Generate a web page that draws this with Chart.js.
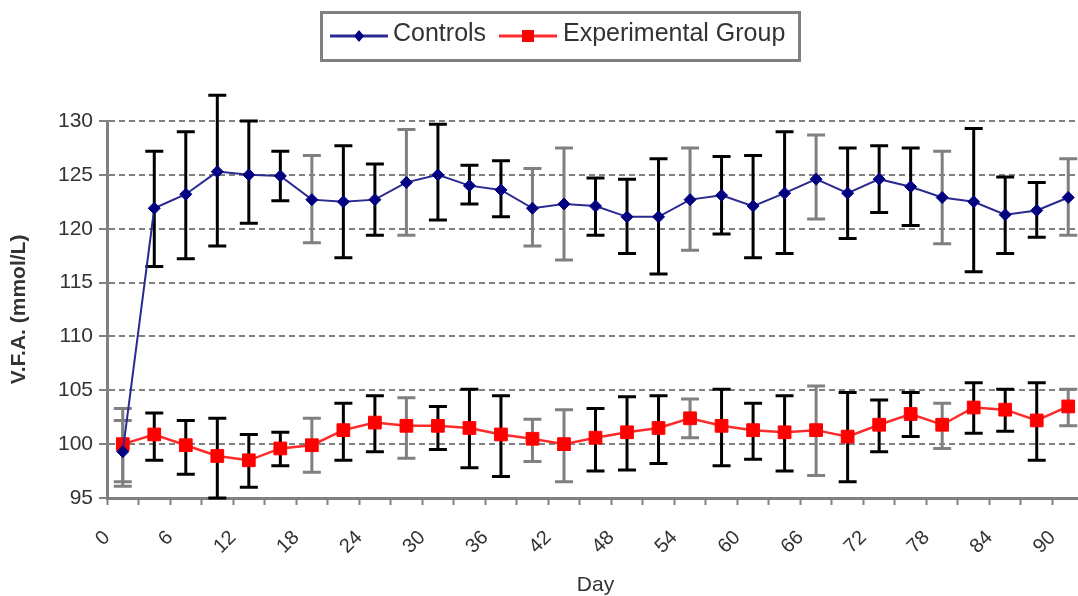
<!DOCTYPE html>
<html>
<head>
<meta charset="utf-8">
<script src="https://cdn.jsdelivr.net/npm/chart.js"></script>
<style>
	html, body { margin: 0; padding: 0; background: #fff; overflow: hidden; }
	canvas { display: block; }
</style>
</head>
<body>
<canvas id="vfaChart" width="1100" height="596"></canvas>
<script>
// sampling days (one point every 3 days)
const days = [0, 3, 6, 9, 12, 15, 18, 21, 24, 27, 30, 33, 36, 39, 42, 45, 48, 51, 54, 57, 60, 63, 66, 69, 72, 75, 78, 81, 84, 87, 90]
const dayLabels = [0, 6, 12, 18, 24, 30, 36, 42, 48, 54, 60, 66, 72, 78, 84, 90]
const yTicks = [95, 100, 105, 110, 115, 120, 125, 130]

// V.F.A. (mmol/L) - controls
const controls = [99.3, 121.9, 123.2, 125.3, 125.0, 124.9, 122.7, 122.5, 122.7, 124.3, 125.0, 124.0, 123.6, 121.9, 122.3, 122.1, 121.1, 121.1, 122.7, 123.1, 122.1, 123.3, 124.6, 123.3, 124.6, 123.9, 122.9, 122.5, 121.3, 121.7, 122.9]
const controlsHi = [102.2, 127.2, 129.0, 132.4, 130.0, 127.2, 126.8, 127.7, 126.0, 129.2, 129.7, 125.9, 126.3, 125.6, 127.5, 124.7, 124.6, 126.5, 127.5, 126.7, 126.8, 129.0, 128.7, 127.5, 127.7, 127.5, 127.2, 129.3, 124.8, 124.3, 126.5]
const controlsLo = [96.5, 116.5, 117.2, 118.4, 120.5, 122.6, 118.7, 117.3, 119.4, 119.4, 120.8, 122.3, 121.1, 118.4, 117.1, 119.4, 117.7, 115.8, 118.0, 119.5, 117.3, 117.7, 120.9, 119.1, 121.5, 120.3, 118.6, 116.0, 117.7, 119.2, 119.4]

// experimental group
const experimental = [100.0, 100.9, 99.9, 98.9, 98.5, 99.6, 99.9, 101.3, 102.0, 101.7, 101.7, 101.5, 100.9, 100.5, 100.0, 100.6, 101.1, 101.5, 102.4, 101.7, 101.3, 101.1, 101.3, 100.7, 101.8, 102.8, 101.8, 103.4, 103.2, 102.2, 103.5]
const experimentalHi = [103.3, 102.9, 102.2, 102.4, 100.9, 101.1, 102.4, 103.8, 104.5, 104.3, 103.5, 105.1, 104.5, 102.3, 103.2, 103.3, 104.4, 104.5, 104.2, 105.1, 103.8, 104.5, 105.4, 104.8, 104.1, 104.8, 103.8, 105.7, 105.1, 105.7, 105.1]
const experimentalLo = [96.1, 98.5, 97.2, 95.0, 96.0, 98.0, 97.4, 98.5, 99.3, 98.7, 99.5, 97.8, 97.0, 98.4, 96.5, 97.5, 97.6, 98.2, 100.6, 98.0, 98.6, 97.5, 97.1, 96.5, 99.3, 100.7, 99.6, 101.0, 101.2, 98.5, 101.7]

// columns where the whiskers look grey in the scan
const greyBars = [0, 6, 9, 13, 14, 18, 22, 26, 30]

Chart.defaults.font.family = '"Liberation Sans", Arial, sans-serif'
Chart.defaults.color = '#333'

// вертикальные "усы" ошибок
const errorBars = {
	id: 'errorBars',
	beforeDatasetsDraw(chart) {
		const ctx = chart.ctx
		const yScale = chart.scales.y
		chart.data.datasets.forEach((ds, di) => {
			const meta = chart.getDatasetMeta(di)
			meta.data.forEach((pt, i) => {
				const top = yScale.getPixelForValue(ds.errHi[i])
				const bottom = yScale.getPixelForValue(ds.errLo[i])
				ctx.save()
				ctx.strokeStyle = greyBars.includes(i) ? '#808080' : '#000'
				ctx.lineWidth = 3
				ctx.beginPath()
				ctx.moveTo(pt.x, top)
				ctx.lineTo(pt.x, bottom)
				ctx.moveTo(pt.x - 9, top)
				ctx.lineTo(pt.x + 9, top)
				ctx.moveTo(pt.x - 9, bottom)
				ctx.lineTo(pt.x + 9, bottom)
				ctx.stroke()
				ctx.restore()
			})
		})
	}
}

// легенда в рамке, как в Excel
const boxedLegend = {
	id: 'boxedLegend',
	afterDraw(chart) {
		const ctx = chart.ctx
		ctx.save()
		ctx.strokeStyle = '#808080'
		ctx.lineWidth = 3
		ctx.strokeRect(321.5, 12.5, 478, 48)
		const items = [
			{ x: 330, textX: 393, ds: chart.data.datasets[0] },
			{ x: 499, textX: 563, ds: chart.data.datasets[1] }
		]
		const cy = 36
		items.forEach(it => {
			ctx.strokeStyle = it.ds.borderColor
			ctx.lineWidth = 3
			ctx.beginPath()
			ctx.moveTo(it.x, cy)
			ctx.lineTo(it.x + 58, cy)
			ctx.stroke()
			const mx = it.x + 29
			ctx.fillStyle = it.ds.pointBackgroundColor
			ctx.beginPath()
			if (it.ds.pointStyle === 'rect') {
				ctx.rect(mx - 6, cy - 6, 12, 12)
			} else {
				ctx.moveTo(mx, cy - 6)
				ctx.lineTo(mx + 5, cy)
				ctx.lineTo(mx, cy + 6)
				ctx.lineTo(mx - 5, cy)
				ctx.closePath()
			}
			ctx.fill()
			ctx.fillStyle = '#333'
			ctx.font = '25px "Liberation Sans", Arial, sans-serif'
			ctx.textBaseline = 'middle'
			ctx.fillText(it.ds.label, it.textX, cy - 2)
		})
		ctx.restore()
	}
}

const ctx = document.getElementById('vfaChart').getContext('2d')
new Chart(ctx, {
	type: 'line',
	data: {
		labels: days,
		datasets: [{
			label: 'Controls',
			data: controls,
			errHi: controlsHi,
			errLo: controlsLo,
			borderColor: '#2a2a90',
			borderWidth: 2,
			pointStyle: 'rectRot',
			pointRadius: 6,
			pointBackgroundColor: '#000080',
			pointBorderColor: '#000080',
			pointBorderWidth: 1,
			tension: 0,
			xAxisID: 'x',
			yAxisID: 'y'
		}, {
			label: 'Experimental Group',
			data: experimental,
			errHi: experimentalHi,
			errLo: experimentalLo,
			borderColor: '#ff2a2a',
			borderWidth: 2.5,
			pointStyle: 'rect',
			pointRadius: 9,
			pointBackgroundColor: '#ff0000',
			pointBorderColor: '#ff0000',
			pointBorderWidth: 1,
			tension: 0,
			xAxisID: 'x',
			yAxisID: 'y'
		}]
	},
	options: {
		responsive: false,
		animation: false,
		devicePixelRatio: 1,
		layout: {
			padding: { top: 121, right: 16, left: 0, bottom: 0 }
		},
		plugins: {
			legend: { display: false },
			tooltip: { enabled: false }
		},
		scales: {
			x: {
				type: 'category',
				display: false,
				offset: true
			},
			xDays: {
				type: 'linear',
				axis: 'x',
				position: 'bottom',
				min: 0,
				max: 93,
				afterFit: scale => {
					scale.height = 98
					scale.paddingLeft = 0
					scale.paddingRight = 0
				},
				border: { color: '#808080', width: 3 },
				grid: {
					drawOnChartArea: false,
					drawTicks: true,
					tickLength: 7,
					tickColor: '#808080',
					tickWidth: 2
				},
				ticks: {
					stepSize: 3,
					autoSkip: false,
					minRotation: 45,
					maxRotation: 45,
					padding: 21,
					font: { size: 20 },
					color: '#333',
					callback: v => dayLabels.includes(v) ? String(v) : ''
				},
				title: {
					display: true,
					text: 'Day',
					font: { size: 21, lineHeight: 1 },
					color: '#333',
					padding: { top: 0, bottom: 0 }
				}
			},
			y: {
				min: 95,
				max: 130,
				afterFit: scale => { scale.width = 107 },
				afterBuildTicks: scale => { scale.ticks = yTicks.map(v => ({ value: v })) },
				border: { color: '#808080', width: 3, dash: [6, 4] },
				grid: {
					color: '#808080',
					lineWidth: 2,
					tickLength: 8,
					tickColor: '#808080'
				},
				ticks: {
					padding: 6,
					font: { size: 21 },
					color: '#333'
				},
				title: {
					display: true,
					text: 'V.F.A. (mmol/L)',
					font: { size: 21, weight: 'bold' },
					color: '#333',
					padding: { top: 7, bottom: 0 }
				}
			}
		}
	},
	plugins: [errorBars, boxedLegend]
})
</script>
</body>
</html>
